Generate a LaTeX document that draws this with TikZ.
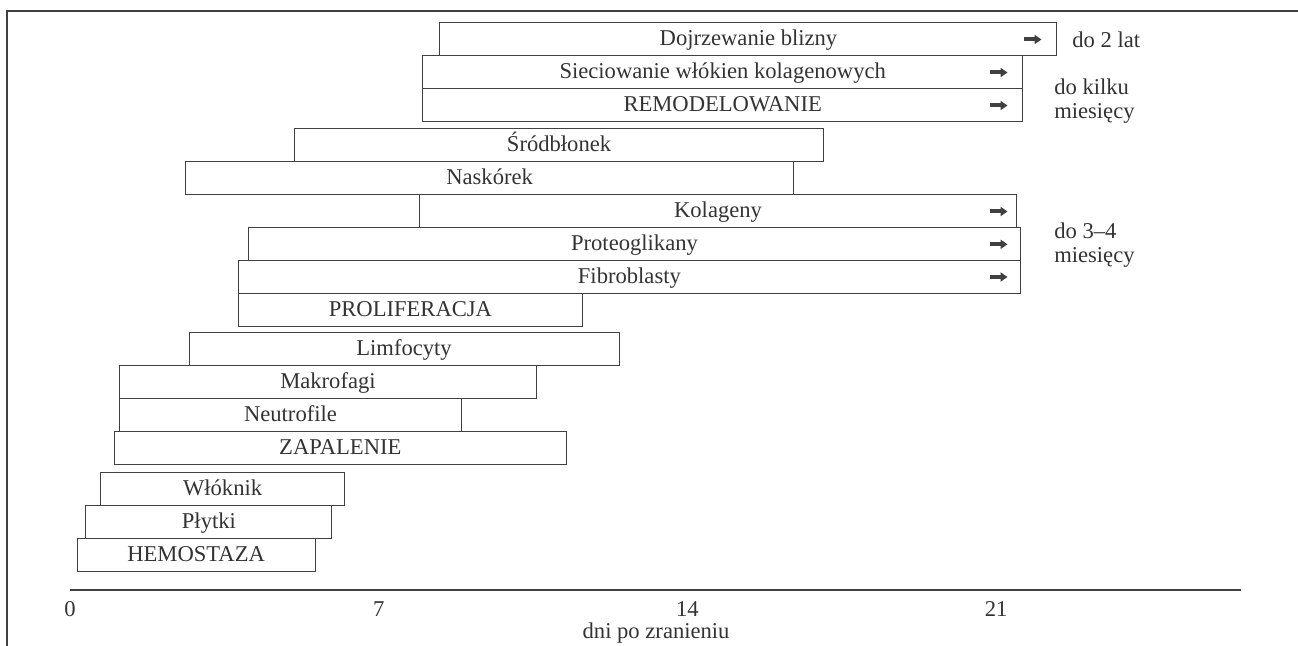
\documentclass[tikz,border=0pt]{standalone}
\usepackage{fontspec}
\setmainfont{Liberation Serif}
\usetikzlibrary{arrows.meta}
\tikzset{
  pasek/.style={rectangle, draw=black!75, line width=0.5pt, inner sep=0pt,
    minimum height=16.5pt, text height=0.75em, text depth=0.1em, text=black!80},
  strz/.style={-{Triangle[length=3.5pt,width=4.5pt]}, line width=2pt, black!75},
  opis/.style={anchor=west, align=left, inner sep=0pt, text=black!80},
  liczba/.style={anchor=base, inner sep=0pt, text=black!80}
}
\begin{document}
\begin{tikzpicture}[x=22.05pt, y=-0.5pt, every node/.style={font=\fontsize{11.3}{12}\selectfont}]
\useasboundingbox (-1.5873,0) rectangle (27.8458,646);
% --- ramka ---
\draw[black!75, line width=0.6pt] (27.85,11) -- (-1.429,11) -- (-1.429,646);
% --- paski ---
\foreach \nm/\pocz/\kon/\y/\txt in {
    dojrz/8.39/22.38/39.5/{Dojrzewanie blizny},
    siec/8.0/21.6/72.5/{Sieciowanie włókien kolagenowych},
    remod/8.0/21.6/105.5/{REMODELOWANIE},
    srodb/5.10/17.08/145.5/{Śródbłonek},
    naskor/2.63/16.40/178.5/{Naskórek},
    kolag/7.92/21.47/211.5/{Kolageny},
    proteo/4.04/21.56/244.3/{Proteoglikany},
    fibro/3.81/21.56/277/{Fibroblasty},
    prolif/3.81/11.63/309.7/{PROLIFERACJA},
    limfo/2.70/12.45/349.5/{Limfocyty},
    makro/1.13/10.57/382.2/{Makrofagi},
    neutro/1.13/8.87/415/{Neutrofile},
    zapal/1.00/11.26/447.7/{ZAPALENIE},
    wlokn/0.69/6.23/489.5/{Włóknik},
    plytki/0.36/5.94/522.5/{Płytki},
    hemo/0.16/5.56/555.5/{HEMOSTAZA}} {
    \node[pasek, minimum width={(\kon-\pocz)*22.05pt}] (\nm) at ({(\pocz+\kon)/2},\y) {\txt};
}
% --- strzalki ---
\foreach \nm/\x in {dojrz/21.64, siec/20.87, remod/20.87, kolag/20.87, proteo/20.87, fibro/20.87} {
    \draw[strz] (\x,0 |- \nm.center) -- ++(0.39,0);
}
% --- opisy z prawej ---
\node[opis] (lat2) at (22.72,39.5) {do 2 lat};
\node[opis] (kilku) at (22.31,101) {do kilku\\miesięcy};
\node[opis] (mies34) at (22.31,245.5) {do 3–4\\miesięcy};
% --- os czasu ---
\coordinate (os0) at (0,590);
\coordinate (os1) at (26.55,590);
\draw[black!75, line width=0.6pt] (os0) -- (os1);
\foreach \d in {0,7,14,21} {
    \node[liczba] (t\d) at (\d,617) {\d};
}
\node[liczba] (dni) at (13.29,639) {dni po zranieniu};
\end{tikzpicture}
\end{document}
